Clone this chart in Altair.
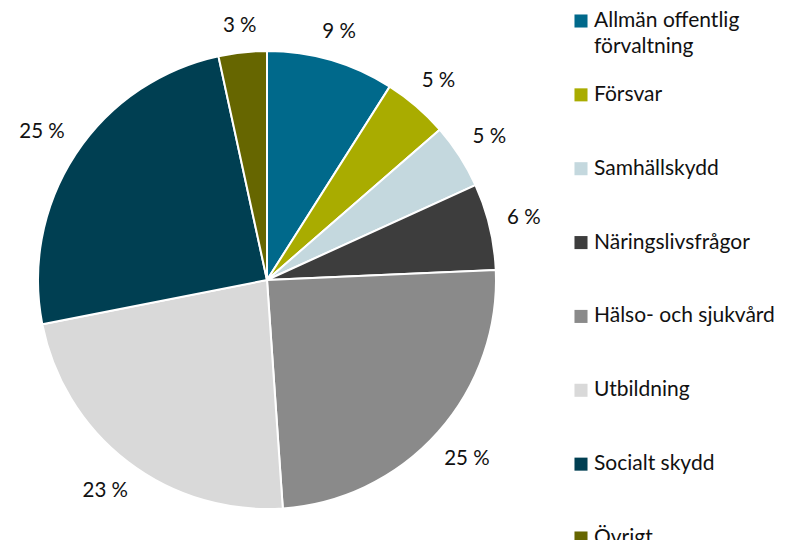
import altair as alt
import pandas as pd

categories = ["Allmän offentlig förvaltning", "Försvar", "Samhällskydd", "Näringslivsfrågor",
              "Hälso- och sjukvård", "Utbildning", "Socialt skydd", "Övrigt"]
legend_line1 = ["Allmän offentlig", "Försvar", "Samhällskydd", "Näringslivsfrågor",
                "Hälso- och sjukvård", "Utbildning", "Socialt skydd", "Övrigt"]
legend_line2 = ["förvaltning", "", "", "", "", "", "", ""]
shares = [9.0, 4.6, 4.6, 6.1, 24.6, 23.0, 24.7, 3.4]
pct_labels = ["9 %", "5 %", "5 %", "6 %", "25 %", "23 %", "25 %", "3 %"]
colors = ["#00698B", "#A9AC00", "#C4D8DE", "#3D3D3D", "#8A8A8A", "#D9D9D9", "#003F52", "#666600"]

df = pd.DataFrame({
    "cat": categories,
    "line1": legend_line1,
    "line2": legend_line2,
    "share": shares,
    "label": pct_labels,
    "order": list(range(len(categories))),
})

FONT = "Lato"
R = 229
color = alt.Color("cat:N", scale=alt.Scale(domain=categories, range=colors), legend=None)
cx, cy = alt.value(259), alt.value(272)

base = alt.Chart(df)

pie = base.mark_arc(outerRadius=R, stroke="white", strokeWidth=2).encode(
    theta=alt.Theta("share:Q", stack=True), order=alt.Order("order:Q"), color=color, x=cx, y=cy
)

labels = base.transform_window(
    cum="sum(share)", sort=[alt.SortField("order")], frame=[None, 0]
).transform_joinaggregate(
    total="sum(share)"
).transform_calculate(
    mid="2*PI*(datum.cum - datum.share/2)/datum.total"
).transform_calculate(
    lr=f"{R} + 17 + abs(sin(datum.mid))*length(datum.label)*5.6 + abs(cos(datum.mid))*8"
).mark_text(fontSize=20.5, font=FONT, color="#111111").encode(
    theta=alt.Theta("mid:Q", scale=None), radius=alt.Radius("lr:Q", scale=None),
    text="label:N", x=cx, y=cy
)

ypos = alt.Y("cat:N", scale=alt.Scale(type="point", domain=categories, range=[13, 530], padding=0), axis=None)

squares = base.mark_square(size=170, opacity=1).encode(x=alt.value(573), y=ypos, color=color)
text1 = base.mark_text(align="left", baseline="middle", fontSize=21, font=FONT, color="#111111").encode(
    x=alt.value(586), y=ypos, text="line1:N"
)
text2 = base.transform_filter("datum.line2 != ''").mark_text(
    align="left", baseline="middle", fontSize=21, font=FONT, color="#111111", dy=26
).encode(x=alt.value(586), y=ypos, text="line2:N")

chart = alt.layer(pie, labels, squares, text1, text2).resolve_scale(
    theta="independent", radius="independent"
).properties(
    width=770, height=532, autosize="none", padding=0
).configure_view(stroke=None)

chart.save("out.html", embed_options={"renderer": "svg", "actions": False})
